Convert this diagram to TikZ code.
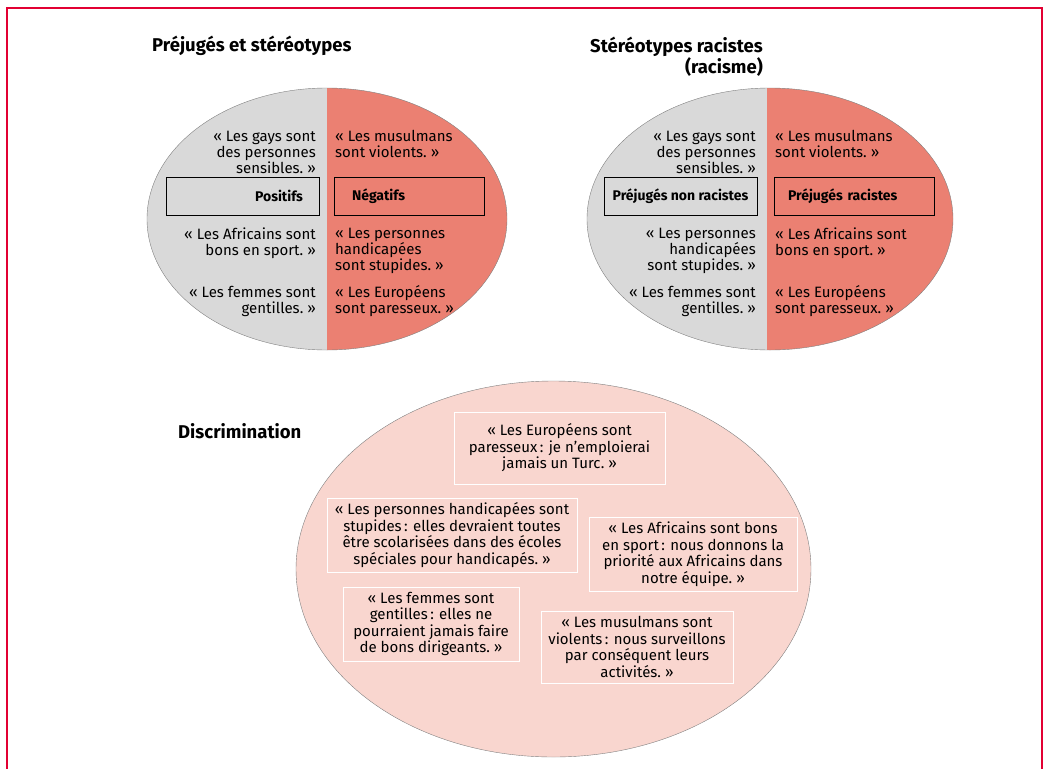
\documentclass[tikz,border=0pt]{standalone}
\usepackage{fontspec}
\setmainfont{Fira Sans}
\usepackage{tikz}
\usetikzlibrary{positioning}

\definecolor{cadrerouge}{RGB}{226,0,50}
\definecolor{gris}{RGB}{217,217,217}
\definecolor{saumon}{RGB}{235,128,114}
\definecolor{rose}{RGB}{249,214,207}
\definecolor{contour}{RGB}{128,128,128}

\tikzset{
    titre/.style={font=\bfseries\fontsize{18.5}{16}\selectfont, inner sep=0pt},
    citation/.style={font=\fontsize{15}{16}\selectfont, inner sep=0pt},
    etiquette/.style={draw, thin, font=\bfseries\fontsize{14}{14}\selectfont, minimum height=38pt, inner ysep=0pt},
    exemple/.style={draw=white, line width=1pt, align=center, inner sep=0pt, font=\fontsize{15}{16.5}\selectfont},
}

\begin{document}
\begin{tikzpicture}[x=1pt, y=-1pt]

    \useasboundingbox (0,0) rectangle (1045,769);

    % Cadre
    \draw[cadrerouge, line width=2pt] (6.5,769) -- (6.5,7.5) -- (1042,7.5) -- (1042,769);

    % Ellipse gauche : préjugés et stéréotypes
    \begin{scope}
        \clip (327,219) ellipse (180 and 131);
        \fill[gris] (140,80) rectangle (327,360);
        \fill[saumon] (327,80) rectangle (515,360);
    \end{scope}
    \draw[contour] (327,219) ellipse (180 and 131);

    \node[titre, anchor=base west] (titreA) at (152,51) {Préjugés et stéréotypes};

    \node[etiquette, text width=121pt, inner xsep=16pt, align=right] (positifs) at (242.5,196) {Positifs};
    \node[etiquette, text width=114pt, inner xsep=18pt, align=left] (negatifs) at (409,196) {Négatifs};

    \node[citation, anchor=east, align=right] (gaysA) at (316,152) {«~Les gays sont\\des personnes\\sensibles.~»};
    \node[citation, anchor=east, align=right] (africainsA) at (316,243) {«~Les Africains sont\\bons en sport.~»};
    \node[citation, anchor=east, align=right] (femmesA) at (316,301) {«~Les femmes sont\\gentilles.~»};
    \node[citation, anchor=west, align=left] (musulmansA) at (335,144) {«~Les musulmans\\sont violents.~»};
    \node[citation, anchor=west, align=left] (handicapesA) at (335,251) {«~Les personnes\\handicapées\\sont stupides.~»};
    \node[citation, anchor=west, align=left] (europeensA) at (335,301) {«~Les Européens\\sont paresseux.~»};

    % Ellipse droite : stéréotypes racistes
    \begin{scope}
        \clip (770,219) ellipse (183 and 131);
        \fill[gris] (580,80) rectangle (767,360);
        \fill[saumon] (767,80) rectangle (960,360);
    \end{scope}
    \draw[contour] (770,219) ellipse (183 and 131);

    \node[titre, anchor=north east, align=right] (titreB) at (763,37) {Stéréotypes racistes\\(racisme)};

    \node[etiquette, minimum width=153pt, inner xsep=0pt, align=center] (nonracistes) at (680.5,196) {Préjugés non racistes};
    \node[etiquette, text width=132pt, inner xsep=14pt, align=left] (racistes) at (854,196) {Préjugés racistes};

    \node[citation, anchor=east, align=right] (gaysB) at (756,152) {«~Les gays sont\\des personnes\\sensibles.~»};
    \node[citation, anchor=east, align=right] (handicapesB) at (756,251) {«~Les personnes\\handicapées\\sont stupides.~»};
    \node[citation, anchor=east, align=right] (femmesB) at (756,301) {«~Les femmes sont\\gentilles.~»};
    \node[citation, anchor=west, align=left] (musulmansB) at (775,144) {«~Les musulmans\\sont violents.~»};
    \node[citation, anchor=west, align=left] (africainsB) at (775,243) {«~Les Africains sont\\bons en sport.~»};
    \node[citation, anchor=west, align=left] (europeensB) at (775,301) {«~Les Européens\\sont paresseux.~»};

    % Ellipse du bas : discrimination
    \filldraw[fill=rose, draw=contour] (553.5,569) ellipse (257.5 and 188);
    \node[titre, anchor=base west] (titreC) at (178,438) {Discrimination};

    \node[exemple, minimum width=211pt, minimum height=72pt] (europeensC) at (559.5,448)
        {«~Les Européens sont\\paresseux\,: je n’emploierai\\jamais un Turc.~»};
    \node[exemple, minimum width=250pt, minimum height=74pt] (handicapesC) at (452,535)
        {«~Les personnes handicapées sont\\stupides\,: elles devraient toutes\\être scolarisées dans des écoles\\spéciales pour handicapés.~»};
    \node[exemple, minimum width=208pt, minimum height=74pt] (africainsC) at (693,554)
        {«~Les Africains sont bons\\en sport\,: nous donnons la\\priorité aux Africains dans\\notre équipe.~»};
    \node[exemple, minimum width=176pt, minimum height=74pt] (femmesC) at (431,624)
        {«~Les femmes sont\\gentilles\,: elles ne\\pourraient jamais faire\\de bons dirigeants.~»};
    \node[exemple, minimum width=192pt, minimum height=72pt] (musulmansC) at (637,647)
        {«~Les musulmans sont\\violents\,: nous surveillons\\par conséquent leurs\\activités.~»};

\end{tikzpicture}
\end{document}
